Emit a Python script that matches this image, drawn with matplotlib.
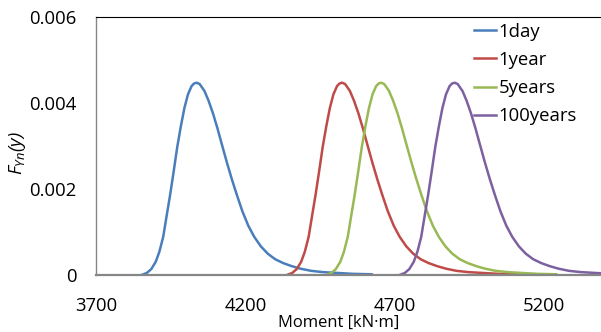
import matplotlib
matplotlib.use('Agg')
import matplotlib.pyplot as plt

plt.rcParams['font.family'] = 'Open Sans'
plt.rcParams['mathtext.fontset'] = 'custom'
plt.rcParams['mathtext.it'] = 'Open Sans:italic'
plt.rcParams['mathtext.rm'] = 'Open Sans:italic'

# density values (all four curves share the same shape)
density = [0.00000, 0.00004, 0.00013, 0.00030, 0.00053, 0.00088, 0.00139, 0.00185,
           0.00240, 0.00297, 0.00345, 0.00388, 0.00420, 0.00439, 0.00445, 0.00447,
           0.00444, 0.00428, 0.00405, 0.00375, 0.00340, 0.00302, 0.00262, 0.00222,
           0.00185, 0.00148, 0.00114, 0.00088, 0.00066, 0.00049, 0.00036, 0.00027,
           0.00020, 0.00014, 0.00009, 0.00006, 0.00004, 0.00002, 0.00001]

x_1day = [3855, 3870, 3885, 3900, 3912, 3925, 3937, 3948, 3960, 3972,
          3984, 3996, 4008, 4020, 4028, 4037, 4047, 4063, 4077, 4092,
          4107, 4122, 4138, 4155, 4172, 4190, 4210, 4230, 4252, 4275,
          4300, 4327, 4355, 4385, 4420, 4460, 4510, 4560, 4623]
x_1year = [4342, 4357, 4372, 4387, 4399, 4412, 4424, 4435, 4447, 4459,
           4471, 4483, 4495, 4507, 4515, 4524, 4534, 4550, 4564, 4579,
           4594, 4609, 4625, 4642, 4659, 4677, 4697, 4717, 4739, 4762,
           4787, 4814, 4842, 4872, 4907, 4947, 4997, 5047, 5110]
x_5years = [4473, 4488, 4503, 4518, 4530, 4543, 4555, 4566, 4578, 4590,
            4602, 4614, 4626, 4638, 4646, 4655, 4665, 4681, 4695, 4710,
            4725, 4740, 4756, 4773, 4790, 4808, 4828, 4848, 4870, 4893,
            4918, 4945, 4973, 5003, 5038, 5078, 5128, 5178, 5241]
x_100years = [4719, 4734, 4749, 4764, 4776, 4789, 4801, 4812, 4824, 4836,
              4848, 4860, 4872, 4884, 4892, 4901, 4911, 4927, 4941, 4956,
              4971, 4986, 5002, 5019, 5036, 5054, 5074, 5094, 5116, 5139,
              5164, 5191, 5219, 5249, 5284, 5324, 5374, 5424, 5487]

labels = ['1day', '1year', '5years', '100years']
colors = ['#4A7EBB', '#BE4B48', '#98B954', '#7D60A0']
x_ticks = [3700, 4200, 4700, 5200]
y_ticks = [0, 0.002, 0.004, 0.006]
y_ticklabels = ['0', '0.002', '0.004', '0.006']

fig = plt.figure(figsize=(6.01, 3.32), dpi=100)
ax = fig.add_axes([96 / 601, 57.3 / 332, 505 / 601, 257.7 / 332])

for xs, lab, c in zip([x_1day, x_1year, x_5years, x_100years], labels, colors):
    ax.plot(xs, density, color=c, lw=1.8, label=lab, solid_joinstyle='round')

ax.set_xlim(3700, 5391)
ax.set_ylim(0, 0.006)
ax.set_xticks(x_ticks)
ax.set_xticklabels([str(t) for t in x_ticks])
ax.set_yticks(y_ticks)
ax.set_yticklabels(y_ticklabels)
ax.tick_params(length=0, labelsize=13.3)
ax.tick_params(axis='x', pad=16)
ax.tick_params(axis='y', pad=14)

ax.spines['right'].set_visible(False)
ax.spines['top'].set_color('black')
ax.spines['top'].set_linewidth(0.8)
ax.spines['left'].set_color('#868686')
ax.spines['left'].set_linewidth(1.0)
ax.spines['bottom'].set_color('#868686')
ax.spines['bottom'].set_linewidth(1.6)

fig.text(339 / 601, 1 - 323 / 332, 'Moment [kN·m]', ha='center', va='center', fontsize=11.9)
fig.text(18 / 601, 1 - 153 / 332, r'$F_{Yn}(y)$', ha='center', va='center',
         rotation=90, fontsize=13.3)

ax.legend(loc='upper left', bbox_to_anchor=(459 / 601, 1 - 8 / 332),
          bbox_transform=fig.transFigure, frameon=False, fontsize=13.3,
          handlelength=1.2, handletextpad=0.15, labelspacing=0.55, borderpad=0.3)

fig.savefig('out.png', dpi=100)
